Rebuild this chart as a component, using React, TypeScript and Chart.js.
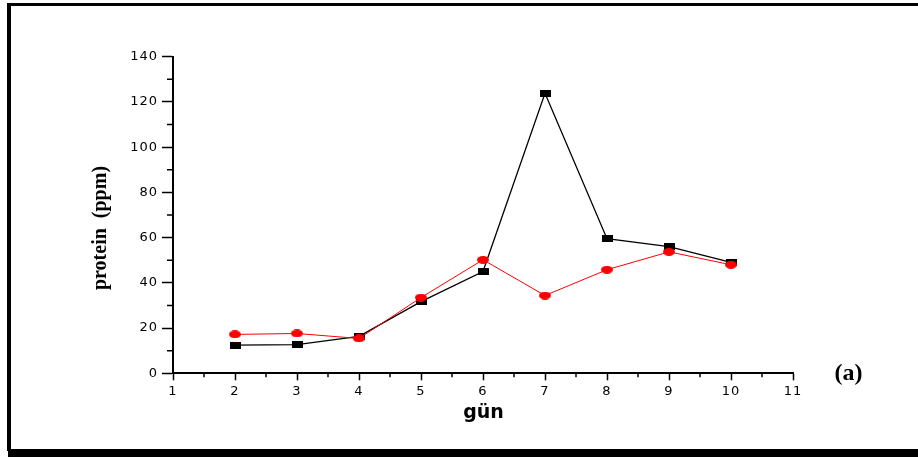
import React, { useEffect, useRef } from "react";
import { Chart, registerables } from "chart.js";

Chart.register(...registerables);

const days = [2, 3, 4, 5, 6, 7, 8, 9, 10];
const seriesBlack = [12.5, 12.7, 16.3, 31.7, 45.0, 123.8, 59.5, 56.0, 49.0];
const seriesRed = [17.2, 17.6, 15.4, 33.5, 50.2, 34.4, 45.8, 53.7, 48.0];
const yTicks = [0, 20, 40, 60, 80, 100, 120, 140];
const yMinorTicks = [10, 30, 50, 70, 90, 110, 130];
const xTicks = [1, 2, 3, 4, 5, 6, 7, 8, 9, 10, 11];
const xMinorTicks = [1.5, 2.5, 3.5, 4.5, 5.5, 6.5, 7.5, 8.5, 9.5, 10.5];
const yTitle = "protein  (ppm)";
const xTitle = "gün";
const panelLabel = "(a)";

function makeMarker(w: number, h: number, color: string, ellipse: boolean) {
  const c = document.createElement("canvas");
  c.width = w;
  c.height = h;
  const g = c.getContext("2d")!;
  g.fillStyle = color;
  if (ellipse) {
    g.beginPath();
    g.ellipse(w / 2, h / 2, w / 2, h / 2, 0, 0, Math.PI * 2);
    g.fill();
  } else {
    g.fillRect(0, 0, w, h);
  }
  return c;
}

export default function App() {
  const ref = useRef<HTMLCanvasElement | null>(null);

  useEffect(() => {
    if (!ref.current) return;
    const squareMarker = makeMarker(11, 7, "#000000", false);
    const circleMarker = makeMarker(12, 8, "#ff0000", true);

    const decor = {
      id: "decor",
      beforeDraw(chart: any) {
        const ctx = chart.ctx;
        ctx.save();
        ctx.fillStyle = "#ffffff";
        ctx.fillRect(0, 0, chart.width, chart.height);
        ctx.fillStyle = "#000000";
        ctx.fillRect(7, 3, 911, 3);
        ctx.fillRect(7, 3, 4, 448);
        ctx.fillRect(8, 449, 910, 8);
        ctx.restore();
        try {
          (ctx as any).letterSpacing = "1px";
        } catch (e) {}
      },
      beforeDatasetsDraw(chart: any) {
        const ctx = chart.ctx;
        try {
          (ctx as any).letterSpacing = "0px";
        } catch (e) {}
        const xs = chart.scales.x;
        const ys = chart.scales.y;
        const area = chart.chartArea;
        ctx.save();
        ctx.strokeStyle = "#000000";
        ctx.lineWidth = 1.5;
        ctx.beginPath();
        for (const v of yMinorTicks) {
          const y = ys.getPixelForValue(v);
          ctx.moveTo(area.left - 6, y);
          ctx.lineTo(area.left, y);
        }
        for (const v of xMinorTicks) {
          const x = xs.getPixelForValue(v);
          ctx.moveTo(x, area.bottom);
          ctx.lineTo(x, area.bottom + 4);
        }
        ctx.stroke();
        ctx.restore();
      },
      afterDraw(chart: any) {
        const ctx = chart.ctx;
        ctx.save();
        try {
          (ctx as any).letterSpacing = "0px";
        } catch (e) {}
        ctx.fillStyle = "#000000";
        ctx.font = "bold 20px 'Liberation Serif', 'Times New Roman', serif";
        ctx.textAlign = "center";
        ctx.textBaseline = "middle";
        ctx.save();
        ctx.translate(101, 228);
        ctx.rotate(-Math.PI / 2);
        ctx.fillText(yTitle, 0, 0);
        ctx.restore();
        ctx.font = "bold 19px 'DejaVu Sans', sans-serif";
        ctx.textBaseline = "alphabetic";
        ctx.fillText(xTitle, 483.5, 418);
        ctx.font = "bold 24px 'Liberation Serif', 'Times New Roman', serif";
        ctx.fillText(panelLabel, 848.5, 380);
        ctx.restore();
      },
    };

    const chart = new Chart(ref.current, {
      type: "line",
      data: {
        datasets: [
          {
            label: "red",
            data: days.map((d, i) => ({ x: d, y: seriesRed[i] })),
            borderColor: "#ff0000",
            borderWidth: 1,
            pointStyle: circleMarker as any,
            pointRadius: 6,
            pointHoverRadius: 6,
            order: 0,
            tension: 0,
          },
          {
            label: "black",
            data: days.map((d, i) => ({ x: d, y: seriesBlack[i] })),
            borderColor: "#000000",
            borderWidth: 1.3,
            pointStyle: squareMarker as any,
            pointRadius: 6,
            pointHoverRadius: 6,
            order: 1,
            tension: 0,
          },
        ],
      },
      options: {
        responsive: false,
        animation: false,
        events: [],
        layout: { padding: { left: 0, right: 125, top: 56.7, bottom: 0 } },
        plugins: {
          legend: { display: false },
          tooltip: { enabled: false },
        },
        scales: {
          x: {
            type: "linear",
            min: 1,
            max: 11,
            afterFit(scale: any) {
              scale.height = 457 - 373.3;
            },
            afterBuildTicks(scale: any) {
              scale.ticks = xTicks.map((v) => ({ value: v }));
            },
            ticks: {
              color: "#000000",
              padding: 4,
              maxRotation: 0,
              autoSkip: false,
              font: { family: "'DejaVu Sans', sans-serif", size: 13 },
              callback: (v: any) => String(v),
            },
            grid: {
              drawOnChartArea: false,
              drawTicks: true,
              tickLength: 7,
              tickColor: "#000000",
              tickWidth: 1.5,
            },
            border: { display: true, color: "#000000", width: 2 },
          },
          y: {
            type: "linear",
            min: 0,
            max: 140,
            afterFit(scale: any) {
              scale.width = 173;
            },
            afterBuildTicks(scale: any) {
              scale.ticks = yTicks.map((v) => ({ value: v }));
            },
            ticks: {
              color: "#000000",
              padding: 4,
              autoSkip: false,
              font: { family: "'DejaVu Sans', sans-serif", size: 13 },
              callback: (v: any) => String(v),
            },
            grid: {
              drawOnChartArea: false,
              drawTicks: true,
              tickLength: 11,
              tickColor: "#000000",
              tickWidth: 1.5,
            },
            border: { display: true, color: "#000000", width: 2 },
          },
        },
      },
      plugins: [decor],
    });

    return () => chart.destroy();
  }, []);

  return (
    <div style={{ position: "absolute", left: 0, top: 0, width: 918, height: 457 }}>
      <canvas ref={ref} width={918} height={457} style={{ display: "block" }} />
    </div>
  );
}
